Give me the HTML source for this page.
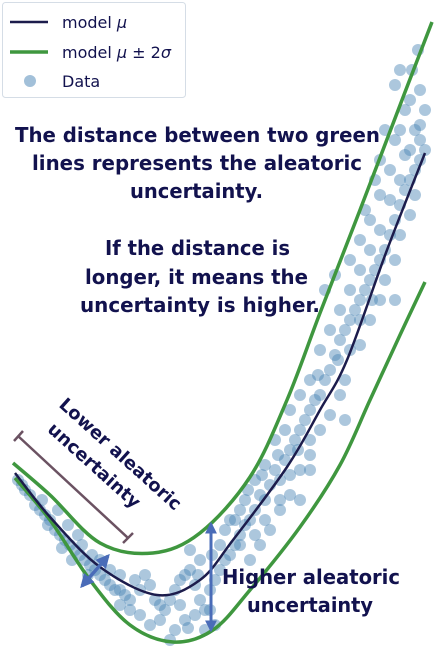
<!DOCTYPE html>
<html><head><meta charset="utf-8"><style>
html,body{margin:0;padding:0;background:#fff;}
svg{display:block;font-family:"DejaVu Sans","Liberation Sans",sans-serif;}
</style></head><body>
<svg id="chart" width="443" height="661" viewBox="0 0 443 661" xmlns="http://www.w3.org/2000/svg">
<g id="pts"></g>
<g id="lines"></g>
<g fill="#12124e" font-weight="bold" font-size="20" text-anchor="start">
<text x="15" y="142" textLength="365" lengthAdjust="spacingAndGlyphs">The distance between two green</text>
<text x="32" y="170" textLength="330" lengthAdjust="spacingAndGlyphs">lines represents the aleatoric</text>
<text x="130" y="198" textLength="133" lengthAdjust="spacingAndGlyphs">uncertainty.</text>
<text x="105" y="255" textLength="185" lengthAdjust="spacingAndGlyphs">If the distance is</text>
<text x="85" y="284" textLength="223" lengthAdjust="spacingAndGlyphs">longer, it means the</text>
<text x="80" y="312" textLength="240" lengthAdjust="spacingAndGlyphs">uncertainty is higher.</text>
<text x="222" y="584" textLength="178" lengthAdjust="spacingAndGlyphs">Higher aleatoric</text>
<text x="247" y="612" textLength="126" lengthAdjust="spacingAndGlyphs">uncertainty</text>
<g transform="translate(58,406) rotate(42)" font-size="18">
<text x="0" y="0">Lower aleatoric</text>
<text x="8" y="26">uncertainty</text>
</g>
</g>
<g stroke="#6b5262" stroke-width="2.5">
<line x1="18" y1="436" x2="128" y2="538"/>
<line x1="14" y1="441" x2="23" y2="431"/>
<line x1="123" y1="543" x2="133" y2="533"/>
</g>
<defs><marker id="ah" viewBox="0 0 10 10" refX="8" refY="5" markerWidth="4" markerHeight="4" orient="auto-start-reverse"><path d="M0,0L10,5L0,10z" fill="#4a6cb8"/></marker></defs>
<line x1="211" y1="524" x2="211" y2="630" stroke="#4a6cb8" stroke-width="3" marker-start="url(#ah)" marker-end="url(#ah)"/>
<line x1="82" y1="586" x2="108" y2="556" stroke="#4a6cb8" stroke-width="3.5" marker-start="url(#ah)" marker-end="url(#ah)"/>
<g>
<rect x="2.5" y="2.5" width="183" height="95" rx="3" fill="#fff" fill-opacity="0.85" stroke="#d5dde6"/>
<line x1="10" y1="22" x2="48" y2="22" stroke="#1c1c4c" stroke-width="2.5"/>
<text x="62" y="28" font-size="16" fill="#12124e">model <tspan font-style="italic">μ</tspan></text>
<line x1="10" y1="52" x2="48" y2="52" stroke="#3f973f" stroke-width="3.5"/>
<text x="62" y="58" font-size="16" fill="#12124e">model <tspan font-style="italic">μ</tspan> ± 2<tspan font-style="italic">σ</tspan></text>
<circle cx="30" cy="81" r="6" fill="#4682b4" fill-opacity="0.5"/>
<text x="62" y="87" font-size="16" fill="#12124e">Data</text>
</g>
</svg>
<script>
const curveX = [15,50,100,157,200,233,287,320,347,387,425];
const muY    = [473,517,567,595,580,540,467,410,360,250,153];
const upperX = [13,50,100,153,200,250,287,320,360,402,432];
const upperY = [463,495,543,553,533,477,400,313,210,100,22];
const lowerX = [15,50,90,130,173,213,250,300,340,370,400,425];
const lowerY = [478,520,580,625,642,630,590,527,465,400,335,282];
const ptX = [18,25,30,22,35,40,45,50,55,48,60,65,70,75,80,85,90,95,72,62,88,100,105,110,115,120,125,130,68,78,82,92,58,42,100,110,120,135,140,145,150,155,160,165,170,175,180,185,190,195,200,205,195,185,175,160,150,140,130,120,210,215,220,225,230,235,240,245,250,255,260,265,270,275,280,285,290,295,300,305,310,315,320,325,330,335,340,345,350,355,360,365,370,375,380,385,390,395,400,405,410,415,420,425,240,250,260,270,280,290,300,310,230,220,255,265,275,285,290,300,310,320,330,340,350,360,370,380,390,400,410,420,425,415,405,395,390,380,370,360,350,360,370,380,385,395,400,410,415,420,412,420,418,405,400,330,320,340,345,310,290,280,300,265,245,200,190,210,180,240,205,215,188,170,345,395,255,310,335,350,325,365,375,380,385,395,400,410,372,360,338,318,298,278,262,248,235,225,212,198];
const ptY = [480,490,495,485,505,510,515,520,530,525,535,540,545,550,555,560,565,570,560,548,575,575,580,585,590,590,595,600,525,535,545,555,510,500,560,570,575,580,590,575,585,600,605,610,600,590,580,575,570,585,600,610,615,620,630,620,625,615,610,605,590,580,570,560,555,545,535,525,520,510,495,500,485,470,480,460,450,440,430,420,410,400,395,380,370,355,340,330,320,310,300,290,280,270,260,250,235,220,205,190,180,170,160,150,510,560,545,530,510,495,470,455,520,545,480,465,440,430,410,395,380,350,330,310,290,270,250,230,200,180,150,125,110,130,155,140,170,195,220,240,350,345,320,300,280,260,235,215,195,140,70,90,50,110,130,415,430,395,380,440,475,500,500,520,500,560,550,610,605,545,630,625,628,640,420,300,535,470,275,260,290,210,180,160,130,85,70,100,300,320,360,375,450,455,475,490,520,530,555,575];
const NS='http://www.w3.org/2000/svg';
function xScale(v){ return 0 + (v - 0) * 1; }
function yScale(v){ return 0 + (v - 0) * 1; }
const ptsG = document.getElementById('pts');
for (let i = 0; i < ptX.length; i++) {
  const c = document.createElementNS(NS, 'circle');
  c.setAttribute('cx', xScale(ptX[i]));
  c.setAttribute('cy', yScale(ptY[i]));
  c.setAttribute('r', 6);
  c.setAttribute('fill', '#4682b4');
  c.setAttribute('fill-opacity', '0.45');
  
  
  ptsG.appendChild(c);
}
function smoothPath(xs, ys){
  const p = xs.map((x,i)=>[xScale(x), yScale(ys[i])]);
  let d = 'M' + p[0][0] + ',' + p[0][1];
  for (let i = 0; i < p.length - 1; i++) {
    const p0 = p[Math.max(0,i-1)], p1 = p[i], p2 = p[i+1], p3 = p[Math.min(p.length-1,i+2)];
    const c1x = p1[0] + (p2[0]-p0[0])/6, c1y = p1[1] + (p2[1]-p0[1])/6;
    const c2x = p2[0] - (p3[0]-p1[0])/6, c2y = p2[1] - (p3[1]-p1[1])/6;
    d += ' C' + c1x + ',' + c1y + ' ' + c2x + ',' + c2y + ' ' + p2[0] + ',' + p2[1];
  }
  return d;
}
const linesG = document.getElementById('lines');
function addLine(xs, ys, color, w, name){
  const p = document.createElementNS(NS, 'path');
  p.setAttribute('d', smoothPath(xs, ys));
  p.setAttribute('fill', 'none');
  p.setAttribute('stroke', color);
  p.setAttribute('stroke-width', w);
  
  
  linesG.appendChild(p);
}
addLine(upperX, upperY, '#3f973f', 3.5, 'upper-band-line');
addLine(lowerX, lowerY, '#3f973f', 3.5, 'lower-band-line');
addLine(curveX, muY, '#1c1c4c', 2.5, 'model-mean-line');
</script>
</body></html>
